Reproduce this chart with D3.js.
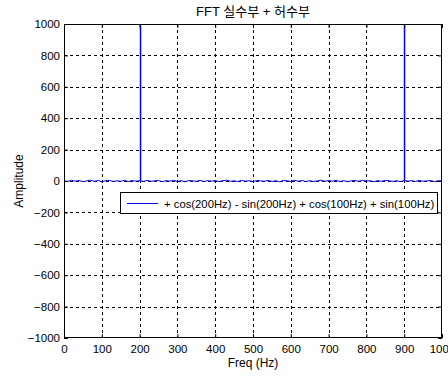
<!DOCTYPE html>
<html>
<head>
<meta charset="utf-8">
<script src="https://cdn.jsdelivr.net/npm/d3@7"></script>
<style>
  body { margin: 0; background: #fff; }
  text { font-family: "Liberation Sans", Arial, "Noto Sans CJK KR", sans-serif; font-size: 11px; fill: #000; }
</style>
</head>
<body>
<div id="chart"></div>
<script>
// Data
const xTicks = [0, 100, 200, 300, 400, 500, 600, 700, 800, 900, 1000];
const yTicks = [-1000, -800, -600, -400, -200, 0, 200, 400, 600, 800, 1000];

// spectrum away from the peaks: small ripple around 0, sampled every 10 Hz
const noiseFreq = d3.range(0, 1001, 10);
const noiseAmp = [
  2, -3, 4, -1, 3, -4, 1, 5, -2, 3,
  -5, 2, 4, -3, 1, -2, 5, -4, 3, -1,
  2, -3, 4, -2, 1, 3, -4, 2, -1, 4,
  -3, 2, -5, 3, 1, -2, 4, -3, 2, -1,
  3, -4, 2, 5, -2, 1, -3, 4, -1, 2,
  -4, 3, 1, -2, 4, -3, 2, -5, 3, 1,
  -2, 4, -1, 3, -4, 2, -3, 1, 5, -2,
  3, -1, 4, -3, 2, -4, 1, 3, -2, 4,
  -1, 2, -5, 3, -2, 4, 1, -3, 2, -4,
  3, -1, 2, -3, 4, -2, 1, 3, -4, 2, 1
];
// the two spikes (clipped at the top of the axes)
const peakFreq = [200, 900];
const peakAmp = [1000, 1000];

const legendLabel = '+ cos(200Hz) - sin(200Hz) + cos(100Hz) + sin(100Hz)';

const margin = { top: 24, right: 6, bottom: 38, left: 64 };
const W = 448, H = 376;
const width = W - margin.left - margin.right;
const height = H - margin.top - margin.bottom;

const svg = d3.select('#chart')
  .append('svg')
  .attr('width', W)
  .attr('height', H);

const g = svg.append('g')
  .attr('transform', `translate(${margin.left},${margin.top})`);

const x = d3.scaleLinear().domain([0, 1000]).range([0, width]);
const y = d3.scaleLinear().domain([-1000, 1000]).range([height, 0]);

svg.append('defs').append('clipPath').attr('id', 'clip')
  .append('rect').attr('width', width).attr('height', height);

// grid
g.append('g')
  .selectAll('line')
  .data(xTicks.slice(1, -1))
  .join('line')
  .attr('x1', d => Math.round(x(d)) + 0.5)
  .attr('x2', d => Math.round(x(d)) + 0.5)
  .attr('y1', 0)
  .attr('y2', height)
  .attr('stroke', '#000')
  .attr('stroke-dasharray', '3,3');

g.append('g')
  .selectAll('line')
  .data(yTicks.slice(1, -1))
  .join('line')
  .attr('y1', d => Math.round(y(d)) + 0.5)
  .attr('y2', d => Math.round(y(d)) + 0.5)
  .attr('x1', 0)
  .attr('x2', width)
  .attr('stroke', '#000')
  .attr('stroke-dasharray', '3,3');

// series
const plot = g.append('g').attr('clip-path', 'url(#clip)');
const noise = noiseFreq.map((f, i) => ({ f, a: noiseAmp[i] }));

plot.append('path')
  .datum(noise)
  .attr('fill', 'none')
  .attr('stroke', '#0000ff')
  .attr('stroke-width', 1)
  .attr('d', d3.line().x(d => x(d.f)).y(d => y(d.a)));

plot.selectAll('.peak')
  .data(peakFreq.map((f, i) => ({ f, a: peakAmp[i] })))
  .join('line')
  .attr('class', 'peak')
  .attr('x1', d => Math.round(x(d.f)) + 0.5)
  .attr('x2', d => Math.round(x(d.f)) + 0.5)
  .attr('y1', y(0))
  .attr('y2', d => y(d.a))
  .attr('stroke', '#0000ff')
  .attr('stroke-width', 1.5);

// axes (inward ticks, MATLAB style)
g.append('g')
  .attr('transform', `translate(0,${height})`)
  .call(d3.axisBottom(x).tickValues(xTicks).tickSize(-4).tickPadding(7).tickFormat(d3.format('d')));
g.append('g')
  .call(d3.axisLeft(y).tickValues(yTicks).tickSize(-4).tickPadding(4).tickFormat(d3.format('d')));
g.append('g')
  .call(d3.axisTop(x).tickValues(xTicks).tickSize(-4).tickFormat(''));
g.append('g')
  .attr('transform', `translate(${width},0)`)
  .call(d3.axisRight(y).tickValues(yTicks).tickSize(-4).tickFormat(''));

g.selectAll('.domain').remove();
g.selectAll('.tick text').style('font-size', '11.5px').style('font-family', '"Liberation Sans", Arial, sans-serif');

g.append('rect')
  .attr('x', 0.5).attr('y', 0.5)
  .attr('width', width - 1).attr('height', height - 1)
  .attr('fill', 'none')
  .attr('stroke', '#000');

// legend
const legend = g.append('g').attr('transform', `translate(${120 - margin.left},${192 - margin.top})`);
legend.append('rect')
  .attr('x', 0.5).attr('y', 0.5)
  .attr('width', 317).attr('height', 21)
  .attr('fill', '#fff')
  .attr('stroke', '#000');
legend.append('line')
  .attr('x1', 7).attr('x2', 38)
  .attr('y1', 11.5).attr('y2', 11.5)
  .attr('stroke', '#0000ff');
legend.append('text')
  .attr('x', 44).attr('y', 15.5)
  .style('font-size', '11.3px')
  .text(legendLabel);

// titles
svg.append('text')
  .attr('x', margin.left + width / 2)
  .attr('y', 16)
  .attr('text-anchor', 'middle')
  .style('font-size', '13px')
  .text('FFT 실수부 + 허수부');

svg.append('text')
  .attr('x', margin.left + width / 2)
  .attr('y', 367)
  .attr('text-anchor', 'middle')
  .style('font-size', '12px')
  .text('Freq (Hz)');

svg.append('text')
  .attr('transform', `translate(23,${margin.top + height / 2}) rotate(-90)`)
  .attr('text-anchor', 'middle')
  .style('font-size', '12px')
  .text('Amplitude');
</script>
</body>
</html>
